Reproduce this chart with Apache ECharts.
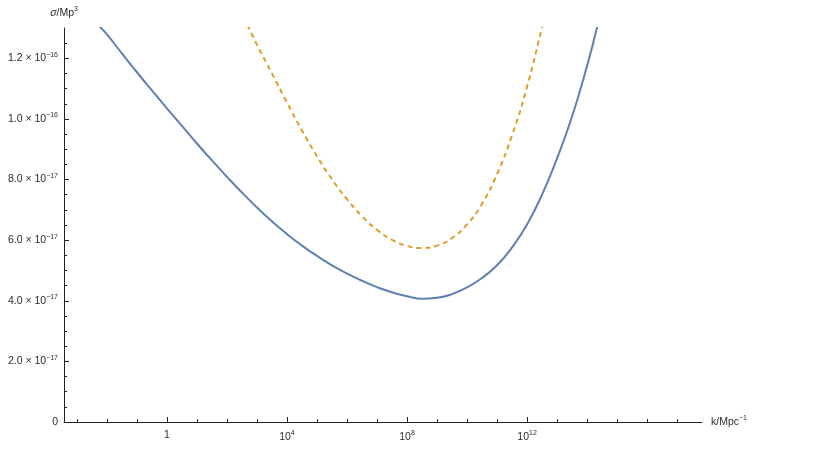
<!DOCTYPE html>
<html>
<head>
<meta charset="utf-8">
<title>sigma vs k</title>
<script src="https://cdn.jsdelivr.net/npm/echarts@6/dist/echarts.min.js"></script>
<style>
  html, body { margin: 0; padding: 0; background: #fff; }
  #chart { width: 833px; height: 473px; }
</style>
</head>
<body>
<div id="chart"></div>
<script>
'use strict';

// x values are log10(k / Mpc^-1), y values are sigma / Mp^3
const blueLogK = [-2.3, -2, -1.5, -1, -0.5, 0, 0.5, 1, 1.5, 2, 2.5, 3, 3.5, 4, 4.5, 5, 5.5, 6, 6.5, 7, 7.5, 8, 8.5, 9, 9.5, 10, 10.5, 11, 11.5, 12, 12.5, 13, 13.5, 14, 14.34];
const blueSigma = [13.1e-17, 12.79e-17, 12.16e-17, 11.54e-17, 10.94e-17, 10.35e-17, 9.77e-17, 9.19e-17, 8.63e-17, 8.09e-17, 7.57e-17, 7.08e-17, 6.62e-17, 6.20e-17, 5.82e-17, 5.48e-17, 5.17e-17, 4.90e-17, 4.66e-17, 4.45e-17, 4.28e-17, 4.15e-17, 4.07e-17, 4.10e-17, 4.22e-17, 4.44e-17, 4.75e-17, 5.17e-17, 5.76e-17, 6.52e-17, 7.50e-17, 8.70e-17, 10.08e-17, 11.75e-17, 13.05e-17];

const orangeLogK = [2.68, 3, 3.5, 4, 4.5, 5, 5.5, 6, 6.5, 7, 7.5, 8, 8.5, 9, 9.5, 10, 10.5, 11, 11.5, 12, 12.5];
const orangeSigma = [13.1e-17, 12.45e-17, 11.5e-17, 10.54e-17, 9.62e-17, 8.77e-17, 8.01e-17, 7.35e-17, 6.79e-17, 6.34e-17, 6.01e-17, 5.81e-17, 5.74e-17, 5.82e-17, 6.07e-17, 6.52e-17, 7.20e-17, 8.18e-17, 9.46e-17, 11.06e-17, 13.05e-17];

const xMajorTicks = [0, 4, 8, 12];
const xMinorTicks = [-3, -2, -1, 0, 1, 2, 3, 4, 5, 6, 7, 8, 9, 10, 11, 12, 13, 14, 15, 16, 17];
const yMajorTicks = [0, 2e-17, 4e-17, 6e-17, 8e-17, 1e-16, 1.2e-16];
const yMinorTicks = [];
for (let i = 0; i <= 26; i++) yMinorTicks.push(i * 5e-18);

const X_MIN = -3.43, X_MAX = 17.83;
const Y_MIN = 0, Y_MAX = 1.3e-16;

const FONT = 'Liberation Sans, Arial, sans-serif';
const TEXT = '#2b2b2b';
const AXIS = '#222';

const rich = {
    m: { fontSize: 10.5, fontFamily: FONT, color: TEXT },
    i: { fontSize: 10.5, fontFamily: FONT, color: TEXT, fontStyle: 'italic' },
    e: { fontSize: 7, fontFamily: FONT, color: TEXT, padding: [0, 0, 7, 0] }
};

function pairs(xs, ys) {
    return xs.map(function(x, i) { return [x, ys[i]]; });
}

function xLabel(v) {
    if (v === 0) return '{m|1}';
    return '{m|10}{e|' + v + '}';
}

function yLabel(v) {
    if (v === 0) return '{m|0}';
    const exp = Math.floor(Math.log10(v) + 1e-9);
    const mant = (v / Math.pow(10, exp)).toFixed(1);
    return '{m|' + mant + ' \u00d7 10}{e|\u2212' + (-exp) + '}';
}

const baseX = {
    type: 'value',
    min: X_MIN,
    max: X_MAX,
    axisLine: { onZero: false, lineStyle: { color: AXIS, width: 1 } },
    splitLine: { show: false }
};
const baseY = {
    type: 'value',
    min: Y_MIN,
    max: Y_MAX,
    axisLine: { onZero: false, lineStyle: { color: AXIS, width: 1 } },
    splitLine: { show: false }
};

const chart = echarts.init(document.getElementById('chart'), null, { renderer: 'canvas' });

chart.setOption({
    animation: false,
    backgroundColor: '#fff',
    grid: { left: 64, right: 131, top: 28, bottom: 51, containLabel: false },
    xAxis: [
        Object.assign({}, baseX, {
            name: '{m|k/Mpc}{e|\u22121}',
            nameLocation: 'end',
            nameGap: 9,
            nameTextStyle: { rich: rich, align: 'left', verticalAlign: 'middle' },
            axisTick: { inside: true, length: 5, lineStyle: { color: AXIS }, customValues: xMajorTicks },
            axisLabel: { margin: 8, formatter: xLabel, rich: rich, customValues: xMajorTicks }
        }),
        // decade minor ticks
        Object.assign({}, baseX, {
            position: 'bottom',
            axisLine: { show: false, onZero: false },
            axisTick: { inside: true, length: 3, lineStyle: { color: AXIS }, customValues: xMinorTicks },
            axisLabel: { show: false }
        })
    ],
    yAxis: [
        Object.assign({}, baseY, {
            name: '{i|\u03c3}{m|/Mp}{e|3}',
            nameLocation: 'end',
            nameGap: 8,
            nameTextStyle: { rich: rich, align: 'center' },
            axisTick: { inside: true, length: 5, lineStyle: { color: AXIS }, customValues: yMajorTicks },
            axisLabel: { margin: 6, formatter: yLabel, rich: rich, customValues: yMajorTicks }
        }),
        Object.assign({}, baseY, {
            position: 'left',
            axisLine: { show: false, onZero: false },
            axisTick: { inside: true, length: 3, lineStyle: { color: AXIS }, customValues: yMinorTicks },
            axisLabel: { show: false }
        })
    ],
    series: [
        {
            type: 'line',
            data: pairs(blueLogK, blueSigma),
            smooth: 0.5,
            showSymbol: false,
            clip: true,
            lineStyle: { color: '#5E81B5', width: 2 }
        },
        {
            type: 'line',
            data: pairs(orangeLogK, orangeSigma),
            smooth: 0.5,
            showSymbol: false,
            clip: true,
            lineStyle: { color: '#E19C24', width: 2, type: [5, 4] }
        }
    ]
});
</script>
</body>
</html>
